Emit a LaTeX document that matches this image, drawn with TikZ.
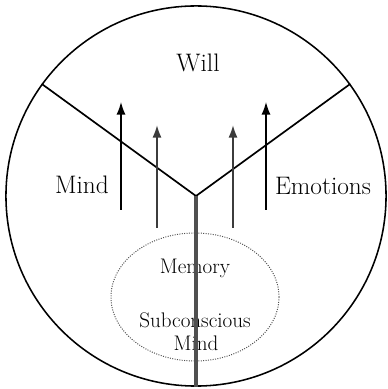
\documentclass[tikz,border=0pt]{standalone}
\usepackage{tikz}
\usetikzlibrary{
  arrows.meta,
  shapes.geometric
}
\definecolor{stemgray}{RGB}{80,80,80}
\definecolor{risegray}{RGB}{60,60,60}
\definecolor{dotgray}{RGB}{80,80,80}
\tikzset{
  rim/.style={
    circle,
    draw=black,
    line width=1.1pt,
    minimum size=9.5cm,
    inner sep=0pt
  },
  divider/.style={draw=black,line width=1.2pt},
  stem/.style={draw=stemgray,line width=3pt},
  pool/.style={
    ellipse,
    draw=dotgray,
    densely dotted,
    line width=0.7pt,
    minimum width=4.2cm,
    minimum height=3.2cm,
    inner sep=0pt
  },
  bigtext/.style={font=\fontsize{18}{21}\selectfont},
  smalltext/.style={font=\fontsize{15}{18}\selectfont},
  outerrise/.style={-{Latex[length=9pt,width=6.5pt]},draw=black,line width=1pt},
  innerrise/.style={-{Latex[length=9pt,width=6.5pt]},draw=risegray,fill=risegray,line width=1.4pt},
}
\begin{document}
\begin{tikzpicture}[x=0.025cm,y=0.025cm]
  \useasboundingbox (0,0) rectangle (388,389);
  \node[rim] (rim) at (196,193) {};
  \coordinate (hub) at (rim.center);
  \node[pool] (pool) at (195,92) {};
  % labels
  \node[bigtext] (will) at (198,326) {Will};
  \node[bigtext] (mind) at (82,204) {Mind};
  \node[bigtext] (emotions) at (323,203) {Emotions};
  \node[smalltext] (memory) at (195,121) {Memory};
  \node[smalltext] (subconscious) at (195,69) {Subconscious};
  \node[smalltext] (submind) at (196,46) {Mind};
  % dividers
  \draw[divider] (hub) -- (rim.144);
  \draw[divider] (hub) -- (rim.36);
  \draw[stem] (hub) -- (rim.south);
  % rising arrows
  \coordinate (a1) at (121,179);
  \coordinate (b1) at (121,287);
  \coordinate (a2) at (157,161);
  \coordinate (b2) at (157,264);
  \coordinate (a3) at (233,161);
  \coordinate (b3) at (233,264);
  \coordinate (a4) at (266,179);
  \coordinate (b4) at (266,287);
  \draw[outerrise] (a1) -- (b1);
  \draw[innerrise] (a2) -- (b2);
  \draw[innerrise] (a3) -- (b3);
  \draw[outerrise] (a4) -- (b4);
\end{tikzpicture}
\end{document}
